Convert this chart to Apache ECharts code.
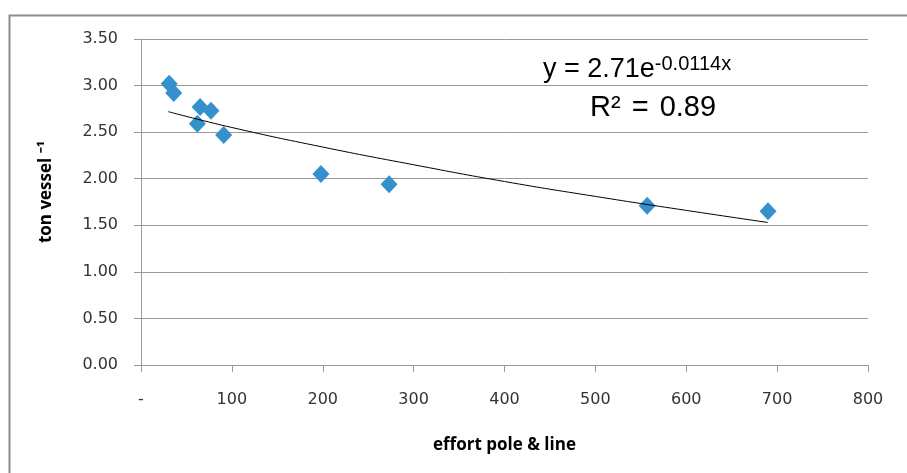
<!DOCTYPE html>
<html>
<head>
<meta charset="utf-8">
<script src="https://cdn.jsdelivr.net/npm/echarts@6/dist/echarts.min.js"></script>
<style>
  html, body { margin: 0; padding: 0; background: #fff; }
  #chart { width: 907px; height: 473px; }
</style>
</head>
<body>
<div id="chart"></div>
<script>
    // observed points (effort, catch)
    const effort = [31, 36, 65, 77, 62, 91, 198, 273, 557, 690]
    const catchRate = [3.02, 2.92, 2.77, 2.73, 2.59, 2.47, 2.05, 1.94, 1.71, 1.65]
    // trend line
    const trendX = [30, 100, 200, 300, 400, 500, 600, 690]
    const trendY = [2.72, 2.55, 2.34, 2.15, 1.97, 1.81, 1.66, 1.53]
    const xTicks = {0: '-'}

    const tickFont = '"DejaVu Sans", sans-serif'
    const nameFont = '"Open Sans", sans-serif'

    let chart = echarts.init(document.getElementById('chart'))
    chart.setOption({
        animation: false,
        graphic: [
            {
                type: 'rect',
                shape: { x: 9.5, y: 15.5, width: 910, height: 470 },
                style: { fill: 'none', stroke: '#8c8c8c', lineWidth: 2 },
            },
            {
                type: 'text',
                left: 543,
                top: 54,
                style: {
                    rich: {
                        b: { fontFamily: 'Liberation Sans', fontSize: 27, fill: '#000' },
                        s: { fontFamily: 'Liberation Sans', fontSize: 20, fill: '#000', verticalAlign: 'top', padding: [0, 0, 12, 0] },
                    },
                    text: '{b|y = 2.71e}{s|-0.0114x}',
                }
            },
            {
                type: 'text',
                left: 590,
                top: 93,
                style: {
                    rich: {
                        r: { fontFamily: 'Liberation Sans', fontSize: 29, fill: '#000' },
                        g: { fontFamily: 'Liberation Sans', fontSize: 29, fill: '#000', padding: [0, 3, 0, 3] },
                    },
                    text: '{r|R²}{g| = }{r|0.89}',
                }
            },
        ],
        grid: { left: 141, right: 39, top: 39, bottom: 108 },
        xAxis: {
            type: 'value',
            min: 0,
            max: 800,
            interval: 100,
            name: 'effort pole & line',
            nameLocation: 'middle',
            nameGap: 72,
            nameTextStyle: { fontFamily: nameFont, fontSize: 17, fontWeight: 'bold', color: '#000' },
            axisLine: { lineStyle: { color: '#999', width: 1 } },
            axisTick: { show: true, length: 7, lineStyle: { color: '#999' } },
            axisLabel: {
                margin: 27,
                fontFamily: tickFont, fontSize: 16, color: '#333',
                formatter: v => xTicks[v] !== undefined ? xTicks[v] : String(v),
            },
            splitLine: { show: false },
        },
        yAxis: {
            type: 'value',
            min: 0,
            max: 3.5,
            interval: 0.5,
            name: 'ton vessel ⁻¹',
            nameLocation: 'middle',
            nameGap: 86,
            nameRotate: 90,
            nameTextStyle: { fontFamily: nameFont, fontSize: 17, fontWeight: 'bold', color: '#000', padding: [0, 0, 0, 20] },
            axisLine: { show: true, lineStyle: { color: '#999', width: 1 } },
            axisTick: { show: true, length: 7, lineStyle: { color: '#999' } },
            axisLabel: {
                margin: 23,
                fontFamily: tickFont, fontSize: 16, color: '#333',
                formatter: v => v.toFixed(2),
            },
            splitLine: { show: true, lineStyle: { color: '#999', width: 1 } },
        },
        series: [
            {
                type: 'line',
                data: trendX.map((x, i) => [x, trendY[i]]),
                smooth: true,
                showSymbol: false,
                lineStyle: { color: '#000', width: 1 },
                z: 3,
            },
            {
                type: 'scatter',
                data: effort.map((x, i) => [x, catchRate[i]]),
                symbol: 'diamond',
                symbolSize: [17, 18],
                itemStyle: { color: '#3590ce', opacity: 1 },
                z: 2,
            },
        ]
    })
</script>
</body>
</html>
